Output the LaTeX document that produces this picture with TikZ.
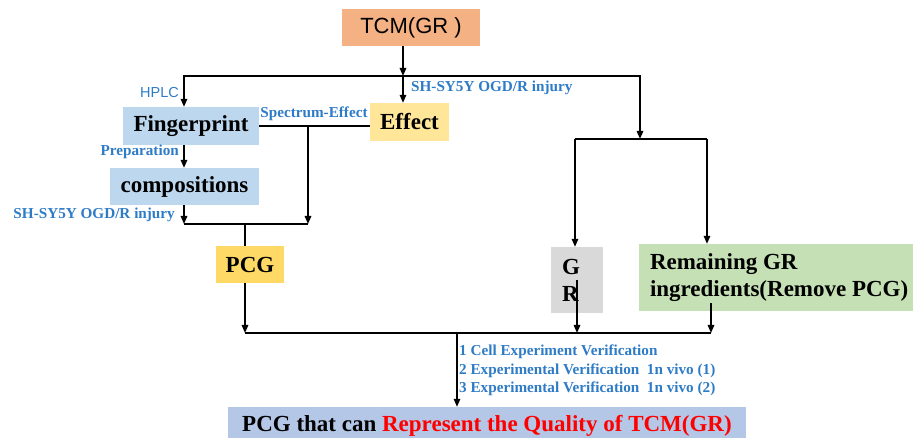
\documentclass[tikz,border=0pt]{standalone}
\usepackage{fontspec}
\setmainfont{Liberation Serif}
\newfontfamily\arialfont{Liberation Sans}
\usetikzlibrary{arrows.meta, positioning, calc}
\definecolor{TCM_Orange}{HTML}{F4B183}
\definecolor{Box_Blue}{HTML}{BDD7EE}
\definecolor{Effect_Yellow}{HTML}{FFE699}
\definecolor{PCG_Gold}{HTML}{FFD966}
\definecolor{GR_Gray}{HTML}{D9D9D9}
\definecolor{Rest_Green}{HTML}{C5E0B4}
\definecolor{Final_Blue}{HTML}{B4C7E7}
\definecolor{Label_Blue}{HTML}{2E7BC6}

\begin{document}
\begin{tikzpicture}[x=1pt, y=-1pt,
    box/.style={inner sep=0pt, minimum height=38pt, font=\fontsize{23}{27}\selectfont\bfseries},
    lbl/.style={inner sep=0pt, text=Label_Blue, font=\fontsize{15.2}{18.5}\selectfont\bfseries},
    link/.style={line width=1.5pt},
    arr/.style={link, -{Triangle[length=8pt,width=6.5pt]}}]
    \useasboundingbox (0,0) rectangle (913,438);

    % ===== Boxes =====
    \node[box, fill=TCM_Orange, minimum width=138pt, minimum height=37pt, font=\arialfont\fontsize{22}{26}\selectfont] (tcm) at (411,27.5) {TCM(GR )};
    \node[box, fill=Box_Blue, minimum width=136pt] (fp) at (191,126) {Fingerprint};
    \node[box, fill=Effect_Yellow, minimum width=79pt] (eff) at (409.5,122) {Effect};
    \node[box, fill=Box_Blue, minimum width=149pt, minimum height=37pt] (comp) at (184.5,186.5) {compositions};
    \node[box, fill=PCG_Gold, minimum width=68pt, minimum height=37pt] (pcg) at (250,264.5) {PCG};
    \node[box, fill=GR_Gray, minimum height=66pt, text width=30pt, inner xsep=11pt, align=flush left] (gr) at (577,280) {G\\R};
    \node[box, fill=Rest_Green, minimum height=67pt, text width=262pt, inner xsep=11pt, align=flush left] (rem) at (781,277.5) {Remaining GR\\ingredients(Remove PCG)};
    \node[box, fill=Final_Blue, minimum width=518pt] (fin) at (487,426) {PCG that can \textcolor{red}{Represent the Quality of TCM(GR)}};

    % ===== Junctions =====
    \coordinate (top) at (403,76);
    \coordinate (topL) at (184,76);
    \coordinate (topR) at (640,76);
    \coordinate (split) at (640,139);
    \coordinate (splitL) at (575,139);
    \coordinate (splitR) at (707,139);
    \coordinate (mergeL) at (184,224);
    \coordinate (mergeR) at (308,224);
    \coordinate (pcgIn) at (245,224);
    \coordinate (botL) at (245,333);
    \coordinate (bot) at (457,333);
    \coordinate (botR) at (711,333);

    % ===== Top split =====
    \draw[arr] (tcm.south -| top) -- (top);
    \draw[arr] (top) -- (top |- eff.north);
    \draw[arr] (top) -- (topL) -- (topL |- fp.north);
    \draw[arr] (top) -- (topR) -- (split);

    % Right branch
    \draw[link] (splitL) -- (splitR);
    \draw[arr] (splitL) -- (splitL |- gr.north);
    \draw[arr] (splitR) -- (splitR |- rem.north);

    % Left branch
    \draw[arr] (fp.south -| topL) -- (topL |- comp.north);
    \draw[link] (fp.east) -- (fp.east -| eff.west);
    \draw[arr] (fp.east -| mergeR) -- (mergeR);
    \draw[arr] (comp.south -| mergeL) -- (mergeL);
    \draw[link] (mergeL) -- (mergeR);
    \draw[link] (pcgIn) -- (pcgIn |- pcg.north);

    % ===== Bottom merge =====
    \draw[arr] (pcg.south -| botL) -- (botL);
    \draw[arr] (gr.center) -- (gr.center |- botL);
    \draw[arr] ([yshift=8pt]rem.south -| botR) -- (botR);
    \draw[link] (botL) -- (botR);
    \draw[arr] (bot) -- (bot |- fin.north);

    % ===== Labels =====
    \node[lbl, font=\arialfont\fontsize{14.5}{17}\selectfont, anchor=east] (hplc) at (179,93) {HPLC};
    \node[lbl, anchor=west] (cellTop) at (411,88) {SH-SY5Y OGD/R injury};
    \node[lbl] (spec) at (314,114) {Spectrum-Effect};
    \node[lbl, anchor=east] (prep) at (179,152) {Preparation};
    \node[lbl, anchor=east] (cellLow) at (175,215) {SH-SY5Y OGD/R injury};
    \node[lbl, anchor=north west, align=left] (verify) at (459,345) {1 Cell Experiment Verification\\2 Experimental Verification~ 1n vivo (1)\\3 Experimental Verification~ 1n vivo (2)};
\end{tikzpicture}
\end{document}
